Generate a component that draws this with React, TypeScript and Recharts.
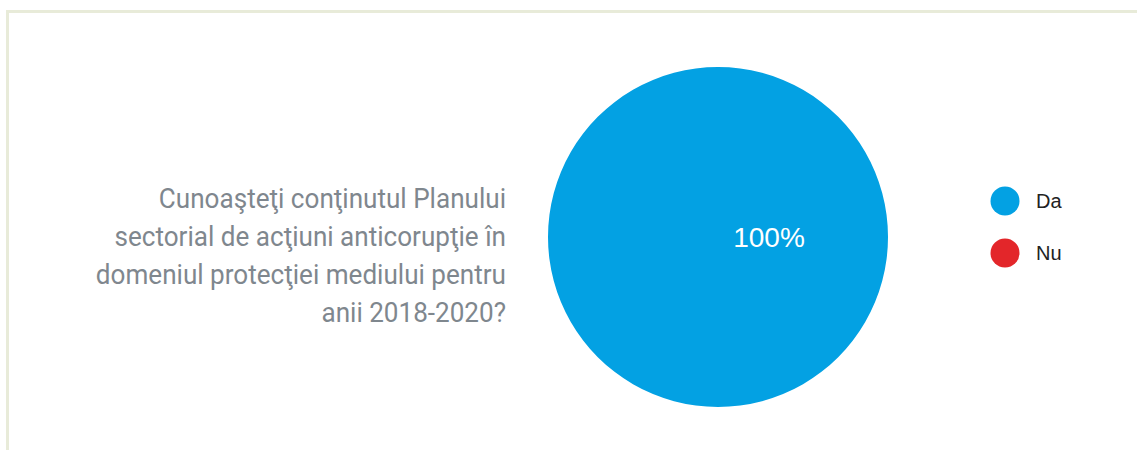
import React from "react";
import { PieChart, Pie, Cell, Legend } from "recharts";

const categories = ["Da", "Nu"];
const values = [100, 0];
const colors = ["#03A1E3", "#E3262A"];
const questionLines = [
  "Cunoaşteţi conţinutul Planului",
  "sectorial de acţiuni anticorupţie în",
  "domeniul protecţiei mediului pentru",
  "anii 2018-2020?",
];

const data = categories.map((name, i) => ({ name, value: values[i] }));
const total = values.reduce((a, b) => a + b, 0);

const RADIAN = Math.PI / 180;

const renderLabel = (props: any) => {
  const { cx, cy, midAngle, outerRadius, value } = props;
  if (!value) return null;
  const r = outerRadius * 0.3;
  const x = cx + r * Math.cos(-midAngle * RADIAN);
  const y = cy + r * Math.sin(-midAngle * RADIAN);
  return (
    <text
      x={x}
      y={y}
      fill="#ffffff"
      textAnchor="middle"
      dominantBaseline="central"
      fontFamily="'Liberation Sans', Arial, sans-serif"
      fontSize={28}
    >
      {`${Math.round((value / total) * 100)}%`}
    </text>
  );
};

const renderLegend = () => (
  <div style={{ fontFamily: "'Liberation Sans', Arial, sans-serif" }}>
    {categories.map((c, i) => (
      <div
        key={c}
        style={{ display: "flex", alignItems: "center", height: 52 }}
      >
        <svg width={30} height={30} style={{ display: "block" }}>
          <circle cx={15} cy={15} r={14.5} fill={colors[i]} />
        </svg>
        <span style={{ marginLeft: 16, fontSize: 20, color: "#222222" }}>{c}</span>
      </div>
    ))}
  </div>
);

export default function App() {
  return (
    <div
      style={{
        position: "absolute",
        left: 0,
        top: 0,
        width: 1137,
        height: 450,
        overflow: "hidden",
        background: "#ffffff",
      }}
    >
      <div
        style={{
          position: "absolute",
          left: 6,
          top: 10,
          width: 1200,
          height: 500,
          border: "3px solid #E8EBD9",
          boxSizing: "border-box",
        }}
      />
      <div
        style={{
          position: "absolute",
          right: 1137 - 506,
          top: 180,
          width: 700,
          textAlign: "right",
          fontFamily: "Roboto, sans-serif",
          fontWeight: 400,
          fontSize: 27,
          lineHeight: "38px",
          color: "#7F878E",
          transform: "scaleX(0.966)",
          transformOrigin: "right center",
          whiteSpace: "nowrap",
        }}
      >
        {questionLines.map((l) => (
          <div key={l}>{l}</div>
        ))}
      </div>
      <div style={{ position: "absolute", left: 0, top: 0 }}>
        <PieChart width={1137} height={450} margin={{ top: 0, right: 0, bottom: 0, left: 0 }}>
          <Pie
            data={data}
            dataKey="value"
            nameKey="name"
            cx={718}
            cy={237}
            outerRadius={170}
            startAngle={180}
            endAngle={-180}
            stroke="none"
            label={renderLabel}
            labelLine={false}
            isAnimationActive={false}
          >
            {data.map((d, i) => (
              <Cell key={d.name} fill={colors[i]} />
            ))}
          </Pie>
          <Legend
            content={renderLegend}
            wrapperStyle={{ position: "absolute", left: 990, top: 175, width: 120 }}
          />
        </PieChart>
      </div>
    </div>
  );
}
